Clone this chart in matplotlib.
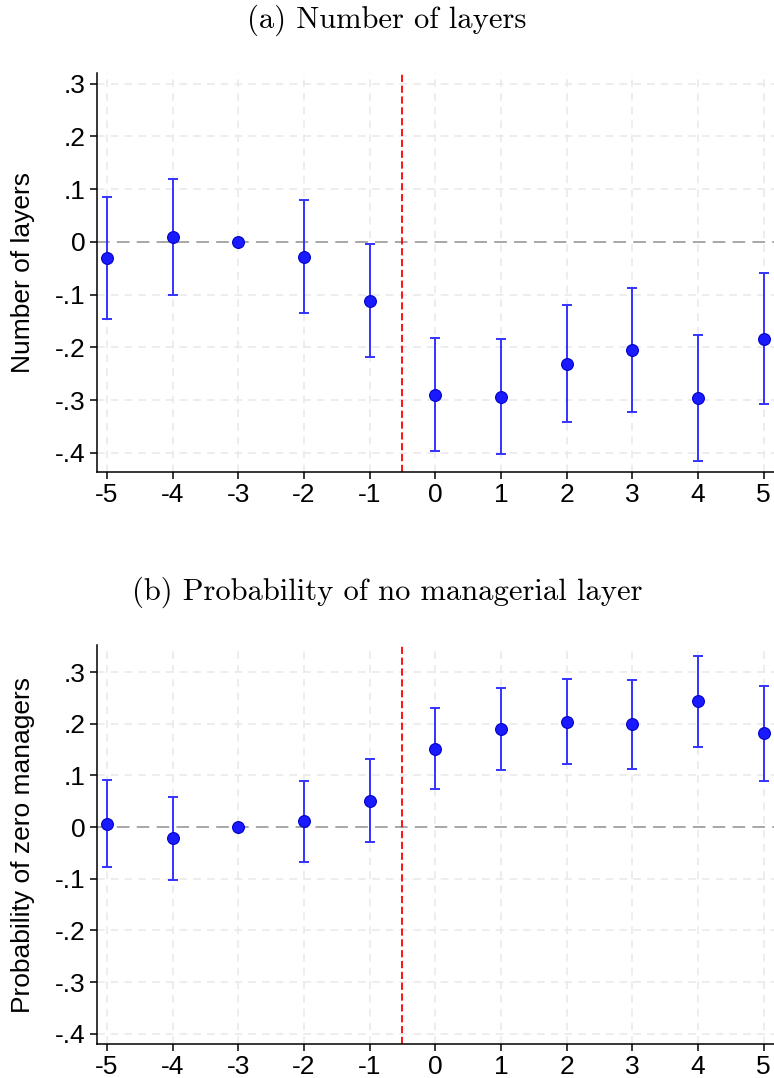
import matplotlib
matplotlib.use("Agg")
import matplotlib.pyplot as plt
import numpy as np

periods = [-5, -4, -3, -2, -1, 0, 1, 2, 3, 4, 5]

layers_coef = [-0.031, 0.010, 0.0, -0.028, -0.112, -0.290, -0.294, -0.231, -0.206, -0.297, -0.184]
layers_hi = [0.085, 0.120, 0.0, 0.080, -0.004, -0.182, -0.185, -0.119, -0.088, -0.176, -0.059]
layers_lo = [-0.146, -0.100, 0.0, -0.135, -0.219, -0.397, -0.403, -0.342, -0.323, -0.416, -0.308]

zero_coef = [0.006, -0.022, 0.0, 0.011, 0.051, 0.151, 0.189, 0.204, 0.199, 0.243, 0.182]
zero_hi = [0.091, 0.059, 0.0, 0.090, 0.131, 0.230, 0.269, 0.286, 0.285, 0.331, 0.273]
zero_lo = [-0.078, -0.102, 0.0, -0.068, -0.028, 0.073, 0.110, 0.122, 0.113, 0.155, 0.090]

yticks = [-0.4, -0.3, -0.2, -0.1, 0.0, 0.1, 0.2, 0.3]
ytick_labels = ["-.4", "-.3", "-.2", "-.1", "0", ".1", ".2", ".3"]

panels = [
    dict(title="(a) Number of layers", ylabel="Number of layers",
         coef=layers_coef, hi=layers_hi, lo=layers_lo,
         pos=[0.1249, 0.5619, 0.8745, 0.370], ylim=(-0.437, 0.3195),
         title_y=0.981),
    dict(title="(b) Probability of no managerial layer", ylabel="Probability of zero managers",
         coef=zero_coef, hi=zero_hi, lo=zero_lo,
         pos=[0.1249, 0.0315, 0.8745, 0.370], ylim=(-0.42, 0.352),
         title_y=0.451),
]

fig = plt.figure(figsize=(7.74, 10.78), dpi=100)
plt.rcParams['font.family'] = ['Liberation Sans', 'DejaVu Sans']

blue = "#1a1aff"
grid_kw = dict(color="#e8e8e8", linestyle=(0, (5, 4)), linewidth=1.1, zorder=0)
for p in panels:
    ax = fig.add_axes(p["pos"])
    x = np.array(periods)
    c = np.array(p["coef"])
    hi = np.array(p["hi"])
    lo = np.array(p["lo"])
    ax.set_xlim(-5.157, 5.15)
    ax.set_ylim(*p["ylim"])
    ax.set_yticks(yticks)
    ax.set_yticklabels(ytick_labels)
    ax.set_xticks(periods)
    ax.set_xticklabels([str(v) for v in periods])
    for yv in yticks:
        if yv != 0:
            ax.axhline(yv, **grid_kw)
    for xv in periods:
        ax.axvline(xv, **grid_kw)
    ax.axhline(0, color="#a0a0a0", linestyle=(0, (7, 4)), linewidth=1.3, zorder=1)
    ax.axvline(-0.5, color="#ff0000", linestyle=(0, (4, 2)), linewidth=1.3, zorder=1)
    mask = (hi - lo) > 0
    ax.errorbar(x[mask], c[mask], yerr=[c[mask] - lo[mask], hi[mask] - c[mask]],
                fmt="none", ecolor="#3333ff", elinewidth=1.4, capsize=3.5,
                capthick=1.4, zorder=3)
    ax.plot(x, c, "o", color=blue, markeredgecolor="#0000c8", markeredgewidth=0.8,
            markersize=8.5, zorder=4)
    for s in ["top", "right"]:
        ax.spines[s].set_visible(False)
    for s in ["left", "bottom"]:
        ax.spines[s].set_linewidth(1.1)
    ax.tick_params(axis="both", labelsize=19, length=5, width=1.1, direction="out", pad=3)
    ax.set_ylabel(p["ylabel"], fontsize=19, labelpad=14)
    fig.text(0.5, p["title_y"], p["title"], ha="center", va="center",
             fontsize=22, family="cmr10")

fig.savefig("out.png", dpi=100)
